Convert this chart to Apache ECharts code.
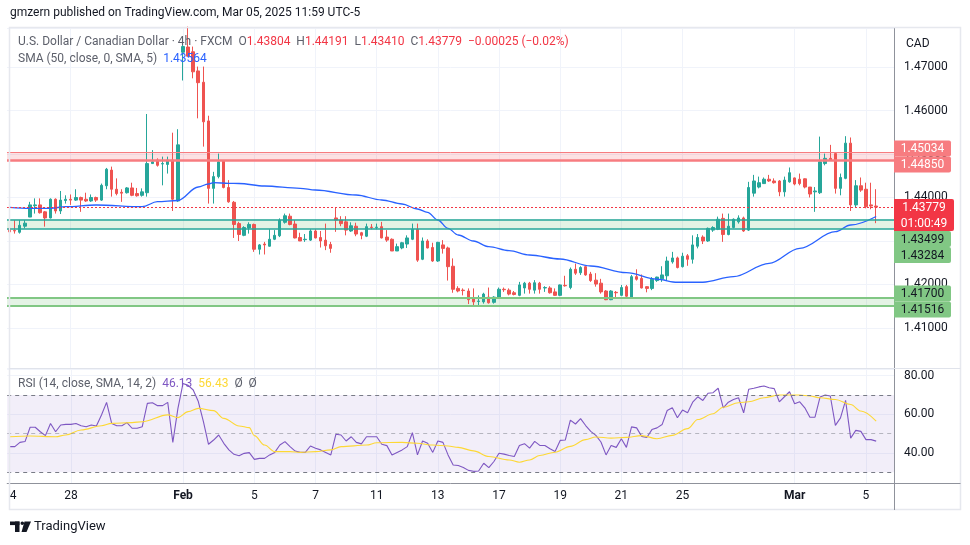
<!DOCTYPE html>
<html><head><meta charset="utf-8">
<script src="https://cdn.jsdelivr.net/npm/echarts@6/dist/echarts.min.js"></script>
<style>html,body{margin:0;padding:0;background:#fff;}#c{width:970px;height:545px;}</style>
</head><body><div id="c"></div>
<script>
// ---------------- DATA ----------------
// trading sessions (calendar day, number of 4h bars in that day)
const sessions = [['Jan 24',4],['Jan 26',2],['Jan 27',6],['Jan 28',6],['Jan 29',6],['Jan 30',6],['Jan 31',4],
 ['Feb 2',2],['Feb 3',6],['Feb 4',6],['Feb 5',6],['Feb 6',6],['Feb 7',4],['Feb 9',2],['Feb 10',6],['Feb 11',6],
 ['Feb 12',6],['Feb 13',6],['Feb 14',4],['Feb 16',2],['Feb 17',6],['Feb 18',6],['Feb 19',6],['Feb 20',6],['Feb 21',4],
 ['Feb 23',2],['Feb 24',6],['Feb 25',6],['Feb 26',6],['Feb 27',6],['Feb 28',4],['Mar 2',2],['Mar 3',6],['Mar 4',6],['Mar 5',6]];
const tickDays   = ['Jan 24','Jan 28','Feb 2','Feb 5','Feb 7','Feb 11','Feb 13','Feb 17','Feb 19','Feb 21','Feb 25','Mar 2','Mar 5'];
const tickLabels = ['24','28','Feb','5','7','11','13','17','19','21','25','Mar','5'];

const opens = [1.4329,1.4324,1.4320,1.4334,1.4355,1.4381,1.4383,1.4367,1.4353,1.4396,1.4369,1.4393,1.4396,1.4394,1.4400,1.4396,1.4392,1.4400,1.4394,1.4427,
1.4463,1.4419,1.4412,1.4411,1.4422,1.4409,1.4405,1.4411,1.4478,1.4486,1.4477,1.4476,1.4486,1.4392,1.4734,1.4746,1.4735,1.4691,1.4665,1.4576,
1.4421,1.4448,1.4484,1.4423,1.4389,1.4340,1.4313,1.4330,1.4338,1.4281,1.4293,1.4288,1.4304,1.4312,1.4343,1.4357,1.4339,1.4308,1.4303,1.4302,
1.4323,1.4308,1.4302,1.4292,1.4353,1.4348,1.4344,1.4323,1.4334,1.4319,1.4311,1.4332,1.4331,1.4333,1.4309,1.4304,1.4277,1.4284,1.4293,1.4304,
1.4327,1.4258,1.4300,1.4285,1.4254,1.4291,1.4284,1.4242,1.4191,1.4187,1.4185,1.4168,1.4161,1.4160,1.4171,1.4159,1.4170,1.4189,1.4187,1.4181,
1.4175,1.4192,1.4203,1.4187,1.4203,1.4192,1.4192,1.4183,1.4175,1.4198,1.4193,1.4235,1.4227,1.4241,1.4224,1.4210,1.4203,1.4185,1.4165,1.4182,
1.4175,1.4195,1.4171,1.4218,1.4214,1.4195,1.4191,1.4209,1.4213,1.4220,1.4252,1.4261,1.4241,1.4266,1.4258,1.4288,1.4309,1.4300,1.4325,1.4327,
1.4352,1.4315,1.4331,1.4344,1.4353,1.4325,1.4410,1.4424,1.4432,1.4442,1.4438,1.4438,1.4413,1.4436,1.4445,1.4442,1.4443,1.4424,1.4413,1.4411,
1.4478,1.4490,1.4501,1.4421,1.4444,1.4525,1.4383,1.4427,1.4419,1.4383,1.43804];
const closes = [1.4321,1.4323,1.4336,1.4341,1.4383,1.4383,1.4365,1.4353,1.4396,1.4369,1.4394,1.4396,1.4394,1.4400,1.4394,1.4392,1.4400,1.4394,1.4428,1.4465,
1.4419,1.4409,1.4410,1.4422,1.4405,1.4404,1.4413,1.4478,1.4482,1.4474,1.4478,1.4486,1.4396,1.4521,1.4747,1.4725,1.4689,1.4664,1.4574,1.4421,
1.4448,1.4482,1.4423,1.4390,1.4338,1.4315,1.4331,1.4338,1.4281,1.4291,1.4291,1.4304,1.4313,1.4348,1.4358,1.4338,1.4307,1.4300,1.4304,1.4323,
1.4307,1.4300,1.4289,1.4283,1.4348,1.4340,1.4325,1.4335,1.4316,1.4313,1.4333,1.4331,1.4332,1.4307,1.4302,1.4277,1.4287,1.4296,1.4307,1.4327,
1.4256,1.4300,1.4284,1.4254,1.4297,1.4283,1.4241,1.4189,1.4185,1.4186,1.4165,1.4160,1.4162,1.4178,1.4158,1.4171,1.4189,1.4188,1.4178,1.4177,
1.4199,1.4203,1.4189,1.4204,1.4189,1.4193,1.4181,1.4175,1.4199,1.4197,1.4235,1.4226,1.4239,1.4222,1.4209,1.4201,1.4183,1.4165,1.4185,1.4181,
1.4193,1.4173,1.4218,1.4212,1.4192,1.4191,1.4212,1.4217,1.4222,1.4254,1.4261,1.4239,1.4265,1.4258,1.4291,1.4308,1.4300,1.4329,1.4331,1.4350,
1.4315,1.4334,1.4350,1.4353,1.4323,1.4423,1.4438,1.4434,1.4442,1.4438,1.4434,1.4413,1.4440,1.4457,1.4431,1.4432,1.4424,1.4408,1.4415,1.4482,
1.4490,1.4486,1.4421,1.4446,1.4525,1.4383,1.4427,1.4417,1.4379,1.43804,1.43779];
const lows = [1.4313,1.4317,1.4317,1.4329,1.4355,1.4363,1.4363,1.4333,1.4352,1.4363,1.4362,1.4386,1.4383,1.4392,1.4367,1.4390,1.4390,1.4390,1.4392,1.4419,
1.4402,1.4405,1.4390,1.4409,1.4403,1.4402,1.4402,1.4402,1.4477,1.4471,1.4428,1.4455,1.4369,1.4390,1.4669,1.4724,1.4674,1.4582,1.4517,1.4386,
1.4386,1.4444,1.4421,1.4388,1.4307,1.4300,1.4311,1.4317,1.4275,1.4269,1.4269,1.4287,1.4302,1.4309,1.4340,1.4336,1.4306,1.4300,1.4298,1.4300,
1.4306,1.4285,1.4279,1.4273,1.4321,1.4334,1.4313,1.4321,1.4311,1.4304,1.4309,1.4327,1.4327,1.4306,1.4298,1.4277,1.4277,1.4281,1.4284,1.4302,
1.4252,1.4256,1.4283,1.4252,1.4252,1.4271,1.4209,1.4181,1.4182,1.4175,1.4155,1.4152,1.4150,1.4156,1.4156,1.4156,1.4168,1.4183,1.4175,1.4175,
1.4173,1.4179,1.4179,1.4179,1.4179,1.4183,1.4179,1.4174,1.4173,1.4195,1.4189,1.4222,1.4222,1.4220,1.4206,1.4195,1.4179,1.4164,1.4164,1.4168,
1.4173,1.4170,1.4168,1.4209,1.4191,1.4182,1.4187,1.4206,1.4206,1.4209,1.4248,1.4237,1.4239,1.4243,1.4248,1.4283,1.4293,1.4298,1.4321,1.4325,
1.4298,1.4313,1.4329,1.4340,1.4321,1.4323,1.4402,1.4421,1.4431,1.4436,1.4432,1.4403,1.4402,1.4434,1.4428,1.4428,1.4421,1.4400,1.4367,1.4408,
1.4474,1.4484,1.4409,1.4405,1.4442,1.4369,1.4377,1.4413,1.4375,1.4373,1.43410];
const highs = [1.4342,1.4348,1.4348,1.4348,1.4390,1.4398,1.4398,1.4369,1.4398,1.4398,1.4415,1.4405,1.4407,1.4419,1.4402,1.4411,1.4407,1.4402,1.4432,1.4468,
1.4471,1.4444,1.4419,1.4424,1.4434,1.4422,1.4421,1.4592,1.4509,1.4490,1.4494,1.4494,1.4549,1.4557,1.4751,1.4793,1.4747,1.4701,1.4701,1.4588,
1.4459,1.4501,1.4486,1.4440,1.4392,1.4344,1.4334,1.4343,1.4340,1.4293,1.4298,1.4327,1.4325,1.4352,1.4363,1.4363,1.4348,1.4319,1.4316,1.4327,
1.4327,1.4323,1.4340,1.4298,1.4376,1.4357,1.4357,1.4343,1.4342,1.4321,1.4340,1.4339,1.4340,1.4344,1.4325,1.4306,1.4294,1.4298,1.4313,1.4340,
1.4340,1.4308,1.4304,1.4296,1.4298,1.4302,1.4287,1.4260,1.4196,1.4191,1.4191,1.4191,1.4175,1.4181,1.4193,1.4173,1.4193,1.4193,1.4191,1.4185,
1.4206,1.4206,1.4206,1.4210,1.4206,1.4196,1.4196,1.4191,1.4200,1.4220,1.4239,1.4248,1.4242,1.4242,1.4229,1.4226,1.4213,1.4187,1.4187,1.4185,
1.4199,1.4199,1.4222,1.4235,1.4223,1.4196,1.4217,1.4218,1.4242,1.4264,1.4275,1.4264,1.4273,1.4270,1.4313,1.4316,1.4313,1.4331,1.4334,1.4356,
1.4363,1.4363,1.4352,1.4359,1.4356,1.4436,1.4452,1.4448,1.4446,1.4452,1.4444,1.4440,1.4448,1.4469,1.4446,1.4455,1.4444,1.4424,1.4424,1.4540,
1.4501,1.4521,1.4501,1.4455,1.4541,1.4538,1.4440,1.4446,1.4434,1.4434,1.44191];

// SMA(50) read at bar indices: [barIndex, value]
const smaPoints = [[0,1.43775],[4,1.43752],[8,1.43752],[11,1.43788],[17,1.43828],[26,1.43788],[29,1.43903],[33,1.43931],
 [37,1.44241],[39,1.44310],[40,1.44340],[43,1.44326],[45,1.44322],[50,1.44264],[57,1.44211],[60,1.44172],[68,1.44057],
 [73,1.43943],[77,1.43851],[80,1.43736],[82,1.43660],[84,1.43483],[86,1.43292],[88,1.43138],[91,1.43000],[94,1.42869],
 [98,1.42777],[102,1.42678],[108,1.42586],[114,1.42425],[121,1.42271],[127,1.42120],[131,1.42051],[136,1.42051],
 [142,1.42179],[149,1.42487],[155,1.42832],[162,1.43214],[165,1.43368],[170,1.43564]];

const rsiValues = [43.3,43.3,45.5,45.9,53.3,53.3,51,49,55.3,51,54.5,54.8,54.8,55.3,54.1,53.6,54.5,54,59.7,66.2,
55.3,54.1,54.1,55.7,52.8,52.8,53.6,65.7,66,64.5,64.5,66.2,45.5,63.1,76,75,72.6,66.6,56.2,44.5,
46.7,49.3,45,41.6,39.3,38.6,39.8,40.2,36.7,37.2,37.2,39,40.3,44.1,45.9,43.3,41,40.3,40.3,43.6,
42.4,41.6,40.3,39,49.7,49.3,46.2,48.4,45.5,44.7,48.4,48.4,48.4,44.5,43.8,39,40.3,41.6,43.3,50.5,
39,46.2,45,40.3,46.2,45.5,39,33.8,33.5,32.5,31,30.5,30.7,34.7,32.4,35.6,39.9,39.4,38.7,38.2,
43.9,44.8,42.5,46,43.9,43.9,42.2,40.8,46.5,46.7,57,55,57.8,54.2,51.2,49.1,45.7,39,43.9,42.9,
47.4,42.9,53.5,53,48.6,48,52.1,53,54.7,62,63.4,58.2,62.2,60.8,66.3,69.1,67.2,70.9,71.2,73.5,
63.4,66.3,67.7,68.6,60.8,73,73.5,74.2,74.7,73.8,73.3,66.5,69.1,71.7,65.5,66.5,63.4,58.5,58.5,69,
70,69.5,54.3,58.2,67.2,47.7,51.7,51.2,46.9,46.9,46.13];
// RSI-based SMA(14) read at bar indices
const rsiSmaPoints = [[0,48.4],[4,48.8],[9,48.4],[11,49.3],[14,51.9],[18,54.1],[20,55.3],[24,55.7],[26,56.2],[31,59.7],
 [33,58.3],[35,61.4],[37,63.1],[40,61.9],[42,57.9],[45,54],[47,53.1],[48,49],[50,44.1],[52,40.7],[55,40.7],[57,40.3],
 [60,40.7],[63,41.6],[65,43.3],[70,44.1],[72,45.3],[77,45.5],[80,45],[83,44.1],[86,43.6],[88,42.9],[91,41.1],[94,38.2],
 [98,36.4],[100,35.2],[102,36.4],[104,38.7],[107,40.4],[110,43.4],[113,46.9],[115,48.3],[118,47.7],[121,48.1],[124,49],
 [127,47.4],[130,49.1],[133,52.6],[135,57.3],[138,60.3],[140,63.7],[143,66],[145,66.5],[148,68.6],[151,70],[155,70],
 [157,69.5],[159,68.6],[162,67.7],[165,65.1],[167,61.7],[170,56.43]];

const redZone = [1.45034, 1.44850];
const midZone = [1.43499, 1.43284];
const lowZone = [1.41700, 1.41516];
const rsiLevels = [70, 50, 30];
const countdown = '01:00:49';

// ---------------- BUILD ----------------
const hoursByLen = {6:['01:00','05:00','09:00','13:00','17:00','21:00'],4:['01:00','05:00','09:00','13:00'],2:['17:00','21:00']};
const categories = [], dayOfCat = [];
sessions.forEach(([d,n]) => hoursByLen[n].forEach(h => { categories.push(d + ' ' + h); dayOfCat.push(d); }));
const tickIdx = new Set(tickDays.map(d => dayOfCat.indexOf(d)));
const tickText = {}; tickDays.forEach((d,k) => tickText[d] = tickLabels[k]);
const showTick = (idx) => tickIdx.has(idx);
const ohlc = opens.map((o,i) => [o, closes[i], lows[i], highs[i]]);

const FONT = 'Roboto, "Noto Sans", sans-serif';
const UP = '#26a69a', DOWN = '#ef5350';
const gridL = 7, gridW = 887, rightX = gridL + gridW;
const GRIDC = '#f0f3fa', AXISC = '#8f929b', TXT = '#131722';

const chart = echarts.init(document.getElementById('c'), null, {renderer:'canvas'});
const lastClose = closes[closes.length - 1];

const option = {
  animation: false,
  backgroundColor: '#ffffff',
  textStyle: {fontFamily: FONT},
  grid: [
    {left: gridL, width: gridW, top: 28, height: 340},
    {left: gridL, width: gridW, top: 369, height: 114}
  ],
  xAxis: [
    {type:'category', gridIndex:0, data:categories, boundaryGap:true,
     axisLine:{show:false}, axisTick:{show:false}, axisLabel:{show:false},
     splitLine:{show:true, interval:showTick, alignWithLabel:true, lineStyle:{color:GRIDC, width:1}}},
    {type:'category', gridIndex:1, data:categories, boundaryGap:true,
     axisLine:{show:true, lineStyle:{color:AXISC, width:1}}, axisTick:{show:false},
     axisLabel:{interval:showTick, margin:7, color:TXT, fontSize:12, fontFamily:FONT,
       formatter:(v, idx) => { const t = tickText[dayOfCat[idx]] || ''; return isNaN(Number(t)) ? '{b|' + t + '}' : t; },
       rich:{b:{fontWeight:'bold', fontSize:12, color:TXT, fontFamily:FONT}}},
     splitLine:{show:true, interval:showTick, alignWithLabel:true, lineStyle:{color:GRIDC, width:1}}}
  ],
  yAxis: [
    {type:'value', gridIndex:0, position:'right', min:1.40080, max:1.47897, splitNumber:7, scale:true,
     axisLine:{show:true, lineStyle:{color:AXISC}}, axisTick:{show:false},
     axisLabel:{formatter:v => v.toFixed(5), color:TXT, fontSize:12, margin:10, fontFamily:FONT, showMinLabel:false, showMaxLabel:false},
     splitLine:{show:true, lineStyle:{color:GRIDC}}},
    {type:'value', gridIndex:1, position:'right', min:24.46, max:83.47, splitNumber:3,
     axisLine:{show:true, lineStyle:{color:AXISC}}, axisTick:{show:false},
     axisLabel:{formatter:v => v.toFixed(2), color:TXT, fontSize:12, margin:10, fontFamily:FONT, showMinLabel:false, showMaxLabel:false},
     splitLine:{show:true, lineStyle:{color:GRIDC}}}
  ],
  series: [
    {type:'candlestick', name:'USDCAD', xAxisIndex:0, yAxisIndex:0, data:ohlc, barWidth:3, clip:true,
     itemStyle:{color:UP, color0:DOWN, borderColor:UP, borderColor0:DOWN, borderWidth:1},
     markArea:{silent:true, precision:5, data:[
       [{yAxis:redZone[0], itemStyle:{color:'rgba(242,54,69,0.15)'}},{yAxis:redZone[1]}],
       [{yAxis:midZone[0], itemStyle:{color:'rgba(76,175,80,0.15)'}},{yAxis:midZone[1]}],
       [{yAxis:lowZone[0], itemStyle:{color:'rgba(76,175,80,0.15)'}},{yAxis:lowZone[1]}]
     ]},
     markLine:{silent:true, precision:5, symbol:'none', label:{show:false}, data:[
       {yAxis:redZone[0], lineStyle:{color:'#f77c80', width:1, type:'solid'}},
       {yAxis:redZone[1], lineStyle:{color:'#f77c80', width:2.5, type:'solid'}},
       {yAxis:midZone[0], lineStyle:{color:'#26a69a', width:1.5, type:'solid'}},
       {yAxis:midZone[1], lineStyle:{color:'#26a69a', width:1.5, type:'solid'}},
       {yAxis:lowZone[0], lineStyle:{color:'#81c784', width:2, type:'solid'}},
       {yAxis:lowZone[1], lineStyle:{color:'#81c784', width:2, type:'solid'}},
       {yAxis:lastClose, lineStyle:{color:'#f23645', width:1, type:[2,2]}}
     ]}},
    {type:'line', name:'SMA', xAxisIndex:0, yAxisIndex:0, data:smaPoints, showSymbol:false, smooth:0.35, smoothMonotone:'x',
     lineStyle:{color:'#2962ff', width:1.3}, z:3},
    {type:'line', name:'RSI', xAxisIndex:1, yAxisIndex:1, data:rsiValues, showSymbol:false,
     lineStyle:{color:'#7e57c2', width:1.1},
     markArea:{silent:true, data:[[{yAxis:rsiLevels[0], itemStyle:{color:'rgba(126,87,194,0.1)'}},{yAxis:rsiLevels[2]}]]},
     markLine:{silent:true, symbol:'none', label:{show:false}, data:[
       {yAxis:rsiLevels[0], lineStyle:{color:'#787b86', width:1, type:[4,4]}},
       {yAxis:rsiLevels[1], lineStyle:{color:'rgba(120,123,134,0.5)', width:1, type:[4,4]}},
       {yAxis:rsiLevels[2], lineStyle:{color:'#787b86', width:1, type:[4,4]}}
     ]}},
    {type:'line', name:'RSI SMA', xAxisIndex:1, yAxisIndex:1, data:rsiSmaPoints, showSymbol:false, smooth:0.35, smoothMonotone:'x',
     lineStyle:{color:'#fdd835', width:1.1}}
  ]
};
chart.setOption(option);

function fmt5(v){ return v.toFixed(5); }
function buildGraphics(){
  const g = [];
  const yPix = v => chart.convertToPixel({yAxisIndex:0}, v);
  const F12 = '12px ' + FONT;
  // header
  g.push({type:'text', x:10, y:13, z:100, style:{text:'gmzern published on TradingView.com, Mar 05, 2025 11:59 UTC-5', font:F12, fill:TXT, verticalAlign:'middle'}});
  // cover the part of the first time label outside the frame
  g.push({type:'rect', z:100, shape:{x:0, y:484, width:9.5, height:24}, style:{fill:'#ffffff'}});
  // frame
  g.push({type:'rect', z:101, shape:{x:9.5, y:27.5, width:951, height:482}, style:{fill:'none', stroke:'#e6e8ee', lineWidth:1.5}});
  // pane separator
  g.push({type:'line', z:101, shape:{x1:9.5, y1:368.5, x2:960.5, y2:368.5}, style:{stroke:'#e0e3eb', lineWidth:1}});
  // right scale line in time-axis row, and time axis line under the price scale
  g.push({type:'line', z:101, shape:{x1:rightX+0.5, y1:483, x2:rightX+0.5, y2:510}, style:{stroke:AXISC, lineWidth:1}});
  g.push({type:'line', z:101, shape:{x1:rightX, y1:483.5, x2:960.5, y2:483.5}, style:{stroke:AXISC, lineWidth:1}});
  // legends
  const o = opens[opens.length-1], h = highs[highs.length-1], l = lows[lows.length-1], c = lastClose, pc = closes[closes.length-2];
  const ch = c - pc, chp = ch / pc * 100;
  const sgn = x => (x < 0 ? '\u2212' : '+');
  const chText = sgn(ch) + Math.abs(ch).toFixed(5) + ' (' + sgn(chp) + Math.abs(chp).toFixed(2) + '%)';
  const L = '#5d606b', R = '#f23645';
  g.push({type:'text', x:18, y:42, z:100, style:{font:F12, verticalAlign:'middle',
    text:'{n|U.S. Dollar / Canadian Dollar \u00b7 4h \u00b7 FXCM}  {k|O}{v|' + fmt5(o) + '}  {k|H}{v|' + fmt5(h) + '}  {k|L}{v|' + fmt5(l) + '}  {k|C}{v|' + fmt5(c) + '}  {v|' + chText + '}',
    rich:{n:{fill:L, font:F12}, k:{fill:L, font:F12}, v:{fill:R, font:F12}}}});
  const smaLast = smaPoints[smaPoints.length-1][1];
  g.push({type:'text', x:18, y:59, z:100, style:{font:F12, verticalAlign:'middle',
    text:'{n|SMA (50, close, 0, SMA, 5)}  {v|' + fmt5(smaLast) + '}',
    rich:{n:{fill:L, font:F12}, v:{fill:'#2962ff', font:F12}}}});
  const rsiLast = rsiValues[rsiValues.length-1], rsiSmaLast = rsiSmaPoints[rsiSmaPoints.length-1][1];
  g.push({type:'text', x:18, y:384, z:100, style:{font:F12, verticalAlign:'middle',
    text:'{n|RSI (14, close, SMA, 14, 2)}  {a|' + rsiLast.toFixed(2) + '}  {b|' + rsiSmaLast.toFixed(2) + '}  {n|\u00d8}  {n|\u00d8}',
    rich:{n:{fill:L, font:F12}, a:{fill:'#7e57c2', font:F12}, b:{fill:'#fdd835', font:F12}}}});
  g.push({type:'text', x:906, y:44, z:100, style:{text:'CAD', font:F12, fill:TXT, verticalAlign:'middle'}});
  // price scale labels
  const boxes = [];
  function pair(zone, bg, fg){
    const a = yPix(zone[0]), b = yPix(zone[1]), m = (a + b) / 2;
    boxes.push({top:m - 16, h:16, w:57, lines:[fmt5(zone[0])], bg, fg});
    boxes.push({top:m, h:16, w:57, lines:[fmt5(zone[1])], bg, fg});
  }
  pair(redZone, '#f77c80', '#ffffff');
  boxes.push({top:yPix(lastClose) - 8, h:32, w:60, lines:[fmt5(lastClose), countdown], bg:'#f23645', fg:'#ffffff'});
  pair(midZone, '#81c784', TXT);
  pair(lowZone, '#81c784', TXT);
  boxes.sort((p, q) => p.top - q.top);
  for (let k = 1; k < boxes.length; k++) {
    const prev = boxes[k-1];
    if (boxes[k].top < prev.top + prev.h) boxes[k].top = prev.top + prev.h;
  }
  boxes.forEach(b => {
    g.push({type:'rect', z:102, shape:{x:rightX, y:b.top, width:b.w, height:b.h, r:[0,2,2,0]}, style:{fill:b.bg}});
    b.lines.forEach((t, j) => g.push({type:'text', z:103, x:rightX + b.w/2, y:b.top + 8.5 + j*16,
      style:{text:t, font:F12, fill:b.fg, align:'center', verticalAlign:'middle'}}));
  });
  // TradingView logo
  g.push({type:'rect', z:100, shape:{x:10, y:521.5, width:9.5, height:3.6}, style:{fill:TXT}});
  g.push({type:'rect', z:100, shape:{x:15, y:521.5, width:4.5, height:10.5}, style:{fill:TXT}});
  g.push({type:'circle', z:100, shape:{cx:22.3, cy:523.3, r:1.8}, style:{fill:TXT}});
  g.push({type:'polygon', z:100, shape:{points:[[24.5,521.5],[31,521.5],[26.5,532],[21.5,532]]}, style:{fill:TXT}});
  g.push({type:'text', x:34, y:527, z:100, style:{text:'TradingView', font:'13px ' + FONT, fill:TXT, verticalAlign:'middle'}});
  return g;
}
chart.setOption({graphic: buildGraphics()});
</script>
</body></html>
